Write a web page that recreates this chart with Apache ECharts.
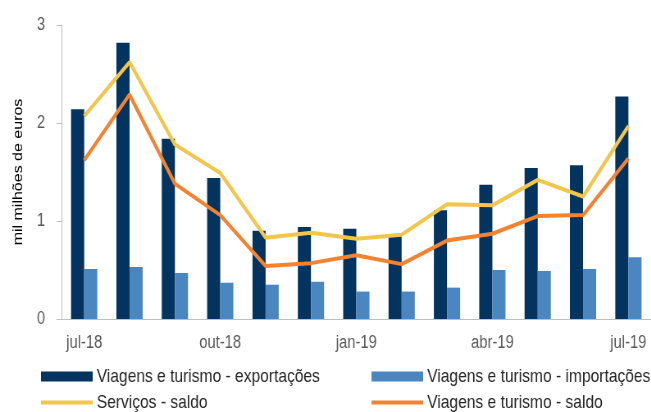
<!DOCTYPE html>
<html>
<head>
<meta charset="utf-8">
<script src="https://cdn.jsdelivr.net/npm/echarts@6/dist/echarts.min.js"></script>
<style>
  html, body { margin: 0; padding: 0; background: #fff; overflow: hidden; }
  #wrap { width: 651px; height: 412px; overflow: hidden; }
  /* the chart is laid out wider and condensed horizontally, giving narrow lettering */
  #chart { width: 794px; height: 412px; transform: scaleX(0.82); transform-origin: 0 0; }
</style>
</head>
<body>
<div id="wrap"><div id="chart"></div></div>
<script>
// Monthly travel & tourism figures, thousand million euros
const months = ['jul-18', 'ago-18', 'set-18', 'out-18', 'nov-18', 'dez-18', 'jan-19',
                'fev-19', 'mar-19', 'abr-19', 'mai-19', 'jun-19', 'jul-19'];
const exportacoes = [2.14, 2.82, 1.84, 1.44, 0.90, 0.94, 0.92, 0.85, 1.11, 1.37, 1.54, 1.57, 2.27];
const importacoes = [0.51, 0.53, 0.47, 0.37, 0.35, 0.38, 0.28, 0.28, 0.32, 0.50, 0.49, 0.51, 0.63];
const servicosSaldo = [2.07, 2.62, 1.78, 1.49, 0.83, 0.88, 0.82, 0.86, 1.17, 1.16, 1.42, 1.25, 1.97];
const viagensSaldo = [1.62, 2.29, 1.38, 1.06, 0.54, 0.57, 0.65, 0.56, 0.80, 0.87, 1.05, 1.06, 1.64];
const yTicks = [0, 1, 2, 3];

const FONT = "'Liberation Sans', Arial, sans-serif";
const C_EXP = '#02345f';
const C_IMP = '#4a86c0';
const C_SERV = '#f2c64a';
const C_VIAG = '#f38231';
const C_AXIS = '#bfbfbf';
const C_LABEL = '#595959';

const legendText = { fontFamily: FONT, fontSize: 19, color: '#262626' };
function legendItem(name, left, top, isLine) {
  return {
    data: [name], left: left, top: top, orient: 'horizontal',
    itemWidth: 63, itemHeight: isLine ? 4 : 10, itemGap: 5,
    icon: 'rect', textStyle: legendText, selectedMode: false, padding: 0
  };
}

const chart = echarts.init(document.getElementById('chart'), null, { renderer: 'canvas' });
chart.setOption({
  animation: false,
  backgroundColor: '#ffffff',
  grid: { left: 75, right: 0, top: 25, bottom: 93, containLabel: false },
  legend: [
    legendItem('Viagens e turismo - exportações', 50, 367, false),
    legendItem('Viagens e turismo - importações', 453, 367, false),
    legendItem('Serviços - saldo', 50, 393, true),
    legendItem('Viagens e turismo - saldo', 453, 393, true)
  ],
  xAxis: {
    type: 'category',
    data: months,
    axisLine: { lineStyle: { color: C_AXIS, width: 1 } },
    axisTick: { show: false },
    axisLabel: {
      interval: 2, fontFamily: FONT, fontSize: 18, color: C_LABEL, margin: 15
    }
  },
  yAxis: {
    type: 'value',
    min: yTicks[0], max: yTicks[yTicks.length - 1], interval: 1,
    name: 'mil milhões de euros',
    nameLocation: 'middle', nameGap: 44, nameRotate: 90,
    nameTextStyle: { fontFamily: FONT, fontSize: 16, color: '#000' },
    splitLine: { show: false },
    axisLine: { show: true, lineStyle: { color: C_AXIS, width: 1 } },
    axisTick: { show: true, inside: false, length: 6, lineStyle: { color: C_AXIS } },
    axisLabel: { fontFamily: FONT, fontSize: 18, color: C_LABEL, margin: 20 }
  },
  series: [
    {
      name: 'Viagens e turismo - exportações', type: 'bar', data: exportacoes,
      barWidth: 16, barGap: '0%', itemStyle: { color: C_EXP }
    },
    {
      name: 'Viagens e turismo - importações', type: 'bar', data: importacoes,
      barWidth: 16, barGap: '0%', itemStyle: { color: C_IMP }
    },
    {
      name: 'Serviços - saldo', type: 'line', data: servicosSaldo,
      symbol: 'none', lineStyle: { color: C_SERV, width: 4 }, itemStyle: { color: C_SERV }
    },
    {
      name: 'Viagens e turismo - saldo', type: 'line', data: viagensSaldo,
      symbol: 'none', lineStyle: { color: C_VIAG, width: 4 }, itemStyle: { color: C_VIAG }
    }
  ]
});
</script>
</body>
</html>
